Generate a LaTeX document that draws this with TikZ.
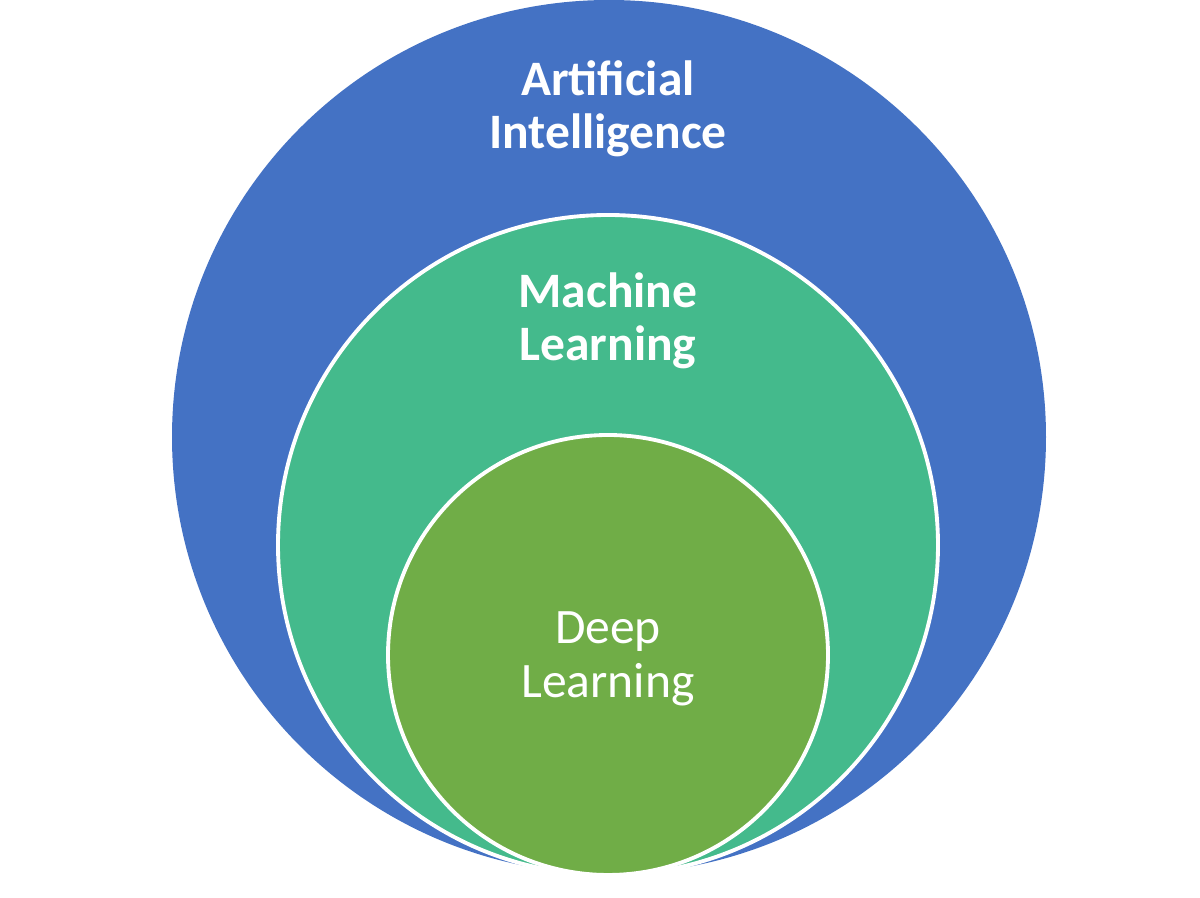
\documentclass[tikz,border=0pt]{standalone}
\usepackage{fontspec}
\setmainfont{Carlito}
\usepackage{xcolor}
\usepackage{tikz}
\usetikzlibrary{positioning,calc}

\definecolor{aiblue}{HTML}{4472C4}
\definecolor{mlteal}{HTML}{44BA8C}
\definecolor{dlgreen}{HTML}{70AD47}

\tikzset{
  ring/.style={draw=white, line width=1.1pt},
  lbl/.style={text=white, align=center, font=\fontsize{14.1}{15.2}\selectfont}
}

\begin{document}
\begin{tikzpicture}
        \useasboundingbox (0,0) rectangle (12,8.98);
        \fill[aiblue] (6.09,4.61) circle (4.37);
        \draw[ring, fill=mlteal] (6.08,3.53) circle (3.30);
        \draw[ring, fill=dlgreen] (6.08,2.43) circle (2.20);
        \node[lbl, font=\fontsize{14.1}{15.2}\selectfont\bfseries] (ai) at (6.08,7.89) {Artificial\\Intelligence};
        \node[lbl, font=\fontsize{14.1}{15.2}\selectfont\bfseries] (ml) at (6.08,5.77) {Machine\\Learning};
        \node[lbl] (dl) at (6.08,2.39) {Deep\\Learning};
    \end{tikzpicture}
\end{document}
